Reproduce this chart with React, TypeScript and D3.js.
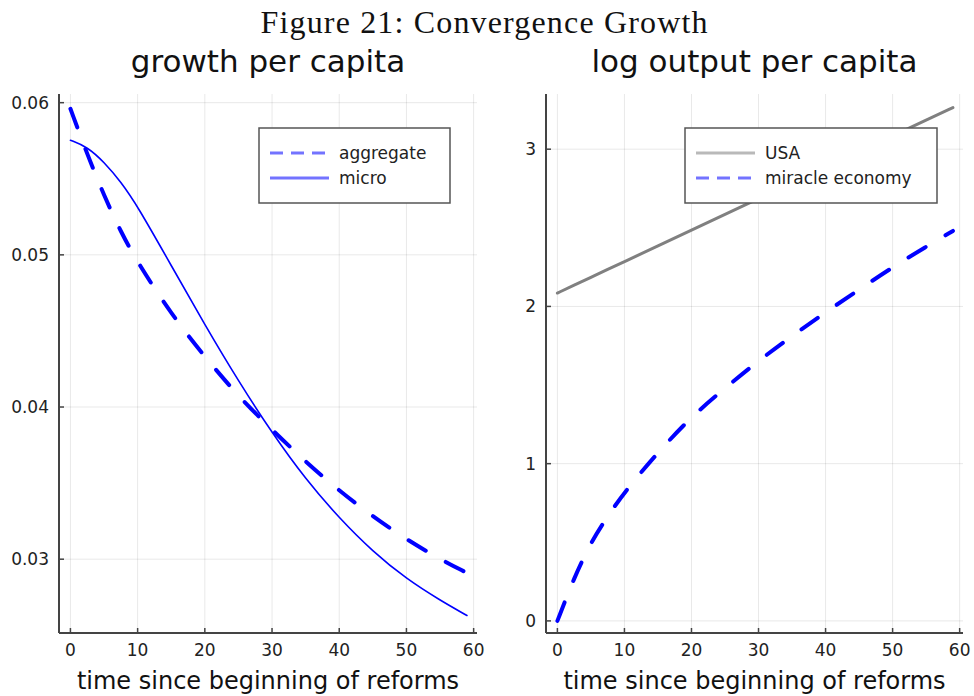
import React from "react";
import * as d3 from "d3";

// years since start of reforms (shared by all series)
const years = [0, 2.5, 5, 7.5, 10, 15, 20, 25, 30, 35, 40, 45, 50, 55, 59];

// left panel: growth per capita
const aggregateGrowth = [0.0596, 0.0566, 0.0539, 0.0515, 0.0495, 0.0461, 0.0433, 0.0407, 0.0385, 0.0364, 0.0345, 0.0328, 0.0313, 0.03, 0.0291];
const microGrowth = [0.05753, 0.0571, 0.0561, 0.0548, 0.0532, 0.0493, 0.0454, 0.0417, 0.0383, 0.03525, 0.0327, 0.0305, 0.0287, 0.0273, 0.0263];

// right panel: log output per capita
const usaLogOutput = [2.085, 2.135, 2.185, 2.235, 2.285, 2.385, 2.485, 2.585, 2.685, 2.785, 2.885, 2.985, 3.085, 3.185, 3.265];
const miracleLogOutput = [0, 0.276, 0.5, 0.665, 0.82, 1.072, 1.3, 1.48, 1.655, 1.812, 1.963, 2.107, 2.25, 2.38, 2.48];

const xTicks = [0, 10, 20, 30, 40, 50, 60];
const growthTicks = [0.03, 0.04, 0.05, 0.06];
const outputTicks = [0, 1, 2, 3];

const W = 974;
const H = 696;
const TOP = 94;
const BOTTOM = 633;
const SANS = "'DejaVu Sans', sans-serif";
const BLUE = "#0000ff";
const GRAY = "#808080";
const DASH = "20 23";

type Series = { values: number[]; color: string; width: number; dash?: string; label: string };

type PanelProps = {
  x0: number;
  x1: number;
  yDomain: [number, number];
  yTicks: number[];
  fmt: (v: number) => string;
  title: string;
  series: Series[];
  box: { x: number; y: number; w: number; h: number };
};

function Panel({ x0, x1, yDomain, yTicks, fmt, title, series, box }: PanelProps) {
  const x = d3.scaleLinear().domain([-1.7, 60.5]).range([x0, x1]);
  const y = d3.scaleLinear().domain(yDomain).range([BOTTOM, TOP]);
  const cx = (x0 + x1) / 2;

  return (
    <g>
      {/* grid */}
      {xTicks.map(t => (
        <line key={"gx" + t} x1={x(t)} x2={x(t)} y1={TOP} y2={BOTTOM} stroke="#000" strokeOpacity={0.09} />
      ))}
      {yTicks.map(t => (
        <line key={"gy" + t} x1={x0} x2={x1} y1={y(t)} y2={y(t)} stroke="#000" strokeOpacity={0.09} />
      ))}

      {/* data */}
      {series.map(s => {
        const line = d3.line<number>()
          .x((_, i) => x(years[i]))
          .y(v => y(v))
          .curve(d3.curveBasis);
        return (
          <path key={s.label} d={line(s.values) || ""} fill="none" stroke={s.color}
            strokeWidth={s.width} strokeDasharray={s.dash} strokeLinecap="round" />
        );
      })}

      {/* axes */}
      <line x1={x0} x2={x0} y1={TOP} y2={BOTTOM} stroke="#444" strokeWidth={2} />
      <line x1={x0} x2={x1} y1={BOTTOM} y2={BOTTOM} stroke="#444" strokeWidth={2} />
      {xTicks.map(t => (
        <g key={"tx" + t}>
          <line x1={x(t)} x2={x(t)} y1={BOTTOM} y2={BOTTOM - 5} stroke="#444" strokeWidth={1.5} />
          <text x={x(t)} y={656} textAnchor="middle" fontFamily={SANS} fontSize={17} fill="#222">{t}</text>
        </g>
      ))}
      {yTicks.map(t => (
        <g key={"ty" + t}>
          <line x1={x0} x2={x0 + 5} y1={y(t)} y2={y(t)} stroke="#444" strokeWidth={1.5} />
          <text x={x0 - 10} y={y(t) + 6} textAnchor="end" fontFamily={SANS} fontSize={17} fill="#222">{fmt(t)}</text>
        </g>
      ))}

      {/* labels */}
      <text x={cx} y={72} textAnchor="middle" fontFamily={SANS} fontSize={31} fill="#111">{title}</text>
      <text x={cx} y={689} textAnchor="middle" fontFamily={SANS} fontSize={24} fill="#111">time since beginning of reforms</text>

      {/* legend */}
      <rect x={box.x} y={box.y} width={box.w} height={box.h} fill="#fff" stroke="#555" strokeWidth={1.5} />
      {series.map((s, i) => {
        const ly = box.y + 25 + i * 25;
        return (
          <g key={"lg" + s.label}>
            <line x1={box.x + 11} x2={box.x + 70} y1={ly} y2={ly} stroke={s.color} strokeOpacity={0.55}
              strokeWidth={3} strokeDasharray={s.dash ? "13 8" : undefined} />
            <text x={box.x + 80} y={ly + 6} fontFamily={SANS} fontSize={17} fill="#222">{s.label}</text>
          </g>
        );
      })}
    </g>
  );
}

export default function App() {
  return (
    <svg width={W} height={H} style={{ position: "absolute", left: 0, top: 0, background: "#fff" }}>
      <text x={484} y={33} textAnchor="middle" fontFamily="'Liberation Serif', serif" fontSize={32}
        textLength={447} lengthAdjust="spacing" fill="#111">
        Figure 21: Convergence Growth
      </text>
      <Panel
        x0={59}
        x1={477}
        yDomain={[0.02515, 0.06057]}
        yTicks={growthTicks}
        fmt={d3.format(".2f")}
        title="growth per capita"
        box={{ x: 259, y: 128, w: 191, h: 75 }}
        series={[
          { values: aggregateGrowth, color: BLUE, width: 4, dash: DASH, label: "aggregate" },
          { values: microGrowth, color: BLUE, width: 1.6, label: "micro" },
        ]}
      />
      <Panel
        x0={546}
        x1={963}
        yDomain={[-0.077, 3.351]}
        yTicks={outputTicks}
        fmt={d3.format("d")}
        title="log output per capita"
        box={{ x: 685, y: 128, w: 252, h: 75 }}
        series={[
          { values: usaLogOutput, color: GRAY, width: 3, label: "USA" },
          { values: miracleLogOutput, color: BLUE, width: 4, dash: DASH, label: "miracle economy" },
        ]}
      />
    </svg>
  );
}
